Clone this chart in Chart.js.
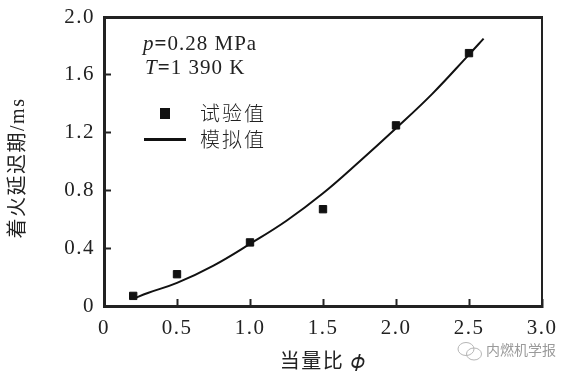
<!DOCTYPE html>
<html>
<head>
<meta charset="utf-8">
<script src="https://cdn.jsdelivr.net/npm/chart.js@4"></script>
<style>
  html, body { margin: 0; background: #fff; }
  #wrap { position: relative; width: 574px; height: 375px; overflow: hidden; }
  .note { position: absolute; white-space: nowrap; color: #222; font-family: "Liberation Serif", serif; font-size: 21px; letter-spacing: 1px; line-height: 24px; }
  .cjk { font-family: "Noto Sans CJK SC", sans-serif; font-weight: 300; font-size: 20px; letter-spacing: 2px; }
  .mark { position: absolute; background: #111; }
  #logo { position: absolute; left: 455px; top: 339px; }
  #mark_text { position: absolute; left: 486px; top: 339px; color: #9a9a9a; font-family: "Noto Sans CJK SC", sans-serif; font-size: 14px; line-height: 20px; white-space: nowrap; }
</style>
</head>
<body>
<div id="wrap">
  <canvas id="chart" width="574" height="375"></canvas>
  <div class="note" style="left:143px;top:31px"><i>p</i><b>=</b>0.28 MPa</div>
  <div class="note" style="left:145px;top:55px"><i>T</i><b>=</b>1 390 K</div>
  <div class="mark" style="left:160px;top:108px;width:10px;height:11px"></div>
  <div class="note cjk" id="legend_a" style="left:200px;top:101px"></div>
  <div class="mark" style="left:144px;top:138px;width:42px;height:3px"></div>
  <div class="note cjk" id="legend_b" style="left:200px;top:127px"></div>
  <svg id="logo" width="30" height="24" viewBox="0 0 30 24" fill="none" stroke="#b5b5b5" stroke-width="1">
    <ellipse cx="11" cy="10" rx="8" ry="6.5"/>
    <ellipse cx="19" cy="15" rx="7.5" ry="6"/>
  </svg>
  <div id="mark_text">内燃机学报</div>
</div>
<script>
const testX = [0.2, 0.5, 1.0, 1.5, 2.0, 2.5];
const testY = [0.07, 0.22, 0.44, 0.67, 1.25, 1.75];
const simX = [0.2, 0.3, 0.5, 0.75, 1.0, 1.25, 1.5, 1.75, 2.0, 2.25, 2.5, 2.6];
const simY = [0.05, 0.09, 0.16, 0.28, 0.43, 0.59, 0.78, 1.0, 1.23, 1.47, 1.74, 1.85];
const xTickLabels = ['0', '0.5', '1.0', '1.5', '2.0', '2.5', '3.0'];
const yTickLabels = ['0', '0.4', '0.8', '1.2', '1.6', '2.0'];
const seriesNames = ['试验值', '模拟值'];

const inkColor = '#222';
const cjkFont = '"Liberation Serif", "Noto Sans CJK SC", "DejaVu Serif", serif';

const toPoints = (xs, ys) => xs.map((x, i) => ({x: x, y: ys[i]}));

// secondary axes only draw the top and right side of the frame
const frameAxis = (position, size) => ({
  position: position,
  min: 0,
  max: 1,
  grid: {display: false},
  ticks: {display: false},
  border: {display: true, color: inkColor, width: size},
  afterFit: scale => {
    if (position === 'top') scale.height = 0;
    else scale.width = 0;
  }
});

const spacedTicks = {
  id: 'spacedTicks',
  beforeDraw: chart => { chart.ctx.letterSpacing = '1.5px'; }
};

document.getElementById('legend_a').textContent = seriesNames[0];
document.getElementById('legend_b').textContent = seriesNames[1];

new Chart(document.getElementById('chart'), {
  type: 'scatter',
  data: {
    datasets: [
      {
        label: seriesNames[0],
        data: toPoints(testX, testY),
        backgroundColor: '#111',
        borderColor: '#111',
        pointStyle: 'rect',
        pointRadius: 5.2,
        order: 1
      },
      {
        label: seriesNames[1],
        data: toPoints(simX, simY),
        showLine: true,
        borderColor: '#111',
        borderWidth: 2,
        tension: 0.4,
        pointRadius: 0,
        order: 2
      }
    ]
  },
  options: {
    responsive: false,
    animation: false,
    layout: {padding: {top: 17, right: 32, left: 0, bottom: 0}},
    plugins: {legend: {display: false}, tooltip: {enabled: false}},
    scales: {
      x: {
        min: 0,
        max: 3,
        grid: {drawOnChartArea: false, tickLength: -7, tickWidth: 2, tickColor: inkColor},
        border: {color: inkColor, width: 3},
        ticks: {
          stepSize: 0.5,
          padding: 17,
          maxRotation: 0,
          color: inkColor,
          font: {family: '"Liberation Serif", serif', size: 21},
          callback: (value, index) => xTickLabels[index]
        },
        title: {
          display: true,
          text: '当量比 𝜙',
          color: inkColor,
          padding: {top: 12, bottom: 0},
          font: {family: cjkFont, size: 20}
        },
        afterFit: scale => {
          scale.height = 69;
          scale.paddingRight = 32;
        }
      },
      y: {
        min: 0,
        max: 2,
        grid: {drawOnChartArea: false, tickLength: -7, tickWidth: 2, tickColor: inkColor},
        border: {color: inkColor, width: 3},
        ticks: {
          stepSize: 0.4,
          padding: 16,
          color: inkColor,
          font: {family: '"Liberation Serif", serif', size: 21},
          callback: (value, index) => yTickLabels[index]
        },
        title: {
          display: true,
          text: '着火延迟期/ms  ',
          color: inkColor,
          padding: {top: 7, bottom: 0},
          font: {family: cjkFont, size: 20}
        },
        afterFit: scale => {
          scale.width = 104;
          scale.paddingTop = 17;
          scale.paddingBottom = 0;
        }
      },
      top: frameAxis('top', 3),
      right: frameAxis('right', 2)
    }
  },
  plugins: [spacedTicks]
});
</script>
</body>
</html>
